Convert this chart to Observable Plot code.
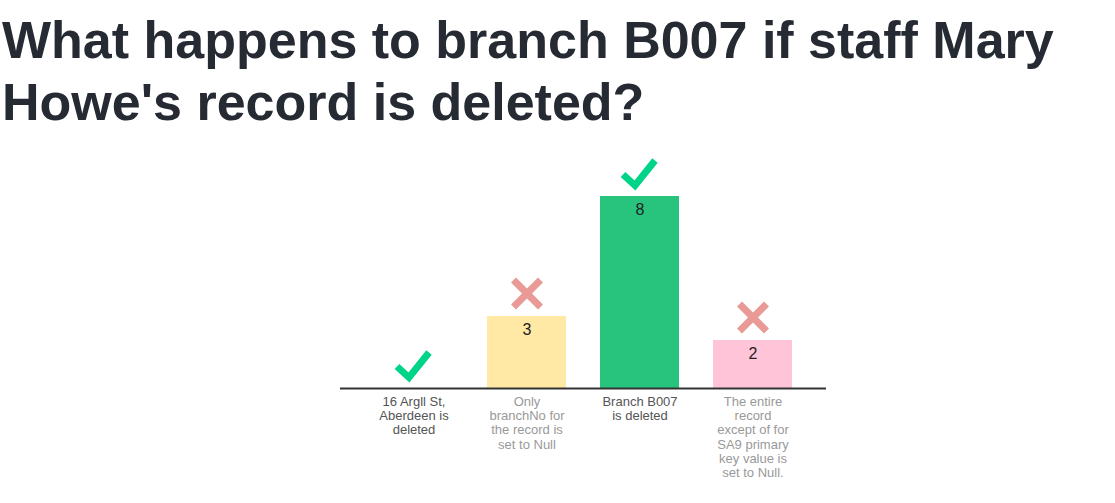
<!DOCTYPE html>
<html>
<head>
<meta charset="utf-8">
<script src="https://cdn.jsdelivr.net/npm/d3@7"></script>
<script src="https://cdn.jsdelivr.net/npm/@observablehq/plot@0.6"></script>
<style>
  html, body { margin: 0; padding: 0; background: #fff; }
  body { width: 1115px; height: 503px; overflow: hidden; font-family: "Liberation Sans", Arial, Helvetica, sans-serif; }
  h1 { margin: 10px 0 7px 2px; font-size: 52px; line-height: 61.5px; font-weight: bold; color: #262a33; }
  #chart svg { display: block; }
</style>
</head>
<body>
<h1 id="title"></h1>
<div id="chart"></div>
<script>
const title = "What happens to branch B007 if staff Mary Howe's record is deleted?";
const categories = [
  "16 Argll St,\nAberdeen is\ndeleted",
  "Only\nbranchNo for\nthe record is\nset to Null",
  "Branch B007\nis deleted",
  "The entire\nrecord\nexcept of for\nSA9 primary\nkey value is\nset to Null."
];
const values = [0, 3, 8, 2];
const correct = [true, false, true, false];
const barColors = ["#ffffff", "#ffe9a5", "#28c47e", "#ffc4d7"];

document.getElementById("title").textContent = title;

const data = categories.map((c, i) => ({ cat: c, value: values[i], correct: correct[i] }));

const checkSymbol = {
  draw(ctx) {
    ctx.moveTo(-17, -22);
    ctx.lineTo(-5, -11);
    ctx.lineTo(15, -36);
  }
};
const crossSymbol = {
  draw(ctx) {
    ctx.moveTo(-13.5, -36.5);
    ctx.lineTo(13.5, -9.5);
    ctx.moveTo(13.5, -36.5);
    ctx.lineTo(-13.5, -9.5);
  }
};

const chart = Plot.plot({
  width: 1115,
  height: 350,
  marginLeft: 340,
  marginRight: 289,
  marginTop: 56,
  marginBottom: 102,
  style: { fontFamily: "'Liberation Sans', Arial, Helvetica, sans-serif", background: "#fff" },
  x: { domain: categories, padding: 0.3, axis: null },
  y: { domain: [0, 8], axis: null },
  color: { domain: categories, range: barColors },
  marks: [
    Plot.barY(data, { x: "cat", y: "value", fill: "cat" }),
    Plot.ruleY([0], { stroke: "#333", strokeWidth: 2 }),
    Plot.text(data.filter(d => d.value > 0), {
      x: "cat", y: "value", text: d => String(d.value),
      dy: 13, fontSize: 16, fill: "#222", lineAnchor: "middle"
    }),
    Plot.dot(data.filter(d => d.correct), {
      x: "cat", y: "value", r: 1, symbol: checkSymbol,
      fill: "none", stroke: "#00d488", strokeWidth: 7,
      strokeLinejoin: "miter", strokeLinecap: "butt"
    }),
    Plot.dot(data.filter(d => !d.correct), {
      x: "cat", y: "value", r: 1, symbol: crossSymbol,
      fill: "none", stroke: "#e99a97", strokeWidth: 7,
      strokeLinecap: "butt"
    }),
    Plot.text(data, {
      x: "cat", y: 0, text: "cat",
      lineAnchor: "top", dy: 7, fontSize: 13, lineHeight: 1.1,
      fill: d => d.correct ? "#555555" : "#999999"
    })
  ]
});
document.getElementById("chart").appendChild(chart);
</script>
</body>
</html>
